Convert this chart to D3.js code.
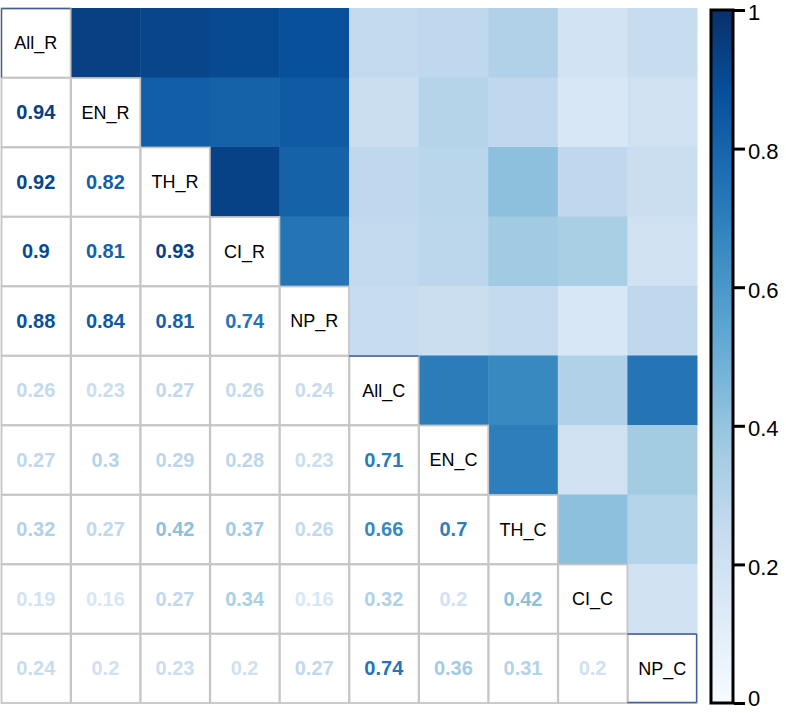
<!DOCTYPE html>
<html><head><meta charset="utf-8">
<script src="https://cdn.jsdelivr.net/npm/d3@7"></script>
<style>body{margin:0;background:#fff}svg{display:block}</style>
</head><body>
<script>
const labels = ["All_R","EN_R","TH_R","CI_R","NP_R","All_C","EN_C","TH_C","CI_C","NP_C"];
// lower triangle rows (row i has i values: columns 0..i-1)
const lowerRows = [
  [],
  [0.94],
  [0.92,0.82],
  [0.9,0.81,0.93],
  [0.88,0.84,0.81,0.74],
  [0.26,0.23,0.27,0.26,0.24],
  [0.27,0.3,0.29,0.28,0.23,0.71],
  [0.32,0.27,0.42,0.37,0.26,0.66,0.7],
  [0.19,0.16,0.27,0.34,0.16,0.32,0.2,0.42],
  [0.24,0.2,0.23,0.2,0.27,0.74,0.36,0.31,0.2]
];
const colorTicks = [0,0.2,0.4,0.6,0.8,1];
const bluesPalette = ["#f7fbff","#deebf7","#c6dbef","#9ecae1","#6baed6","#4292c6","#2171b5","#08519c","#08306b"];

const W = 786, H = 713;
const svg = d3.select("body").append("svg").attr("width", W).attr("height", H);

const n = labels.length;
const x = d3.scaleBand().domain(d3.range(n)).range([1, 697]).padding(0);
const y = d3.scaleBand().domain(d3.range(n)).range([8, 703]).padding(0);
const color = d3.scaleLinear()
  .domain(bluesPalette.map((d,i)=>i/(bluesPalette.length-1)))
  .range(bluesPalette).interpolate(d3.interpolateRgb).clamp(true);

const cells = [];
for (let i=0;i<n;i++) for (let j=0;j<n;j++) {
  if (i===j) cells.push({i,j,type:"diag"});
  else if (j<i) cells.push({i,j,type:"lower",v:lowerRows[i][j]});
  else cells.push({i,j,type:"upper",v:lowerRows[j][i]});
}

// upper colored squares
svg.append("g").selectAll("rect").data(cells.filter(c=>c.type==="upper")).join("rect")
  .attr("x", d=>x(d.j)).attr("y", d=>y(d.i))
  .attr("width", x.bandwidth()+0.5).attr("height", y.bandwidth()+0.5)
  .attr("fill", d=>color(d.v));

// lower + diagonal white cells with gray borders
svg.append("g").selectAll("rect").data(cells.filter(c=>c.type!=="upper")).join("rect")
  .attr("x", d=>x(d.j)+0.5).attr("y", d=>y(d.i)+0.5)
  .attr("width", x.bandwidth()-0.5).attr("height", y.bandwidth()-0.5)
  .attr("fill", "#fff").attr("stroke", "#c6c6c6").attr("stroke-width", 1.8);

// navy edge traces along some diagonal cells
const bw = x.bandwidth(), bh = y.bandwidth();
const navy = "#3f5f96";
const edges = [
  [x(0)+0.5, y(0)+bh, x(0)+0.5, y(0)+0.5], [x(0)+0.5, y(0)+0.5, x(0)+bw, y(0)+0.5],
  [x(5), y(5)+0.5, x(5)+bw, y(5)+0.5],
  [x(9), y(9)+0.5, x(9)+bw-0.5, y(9)+0.5],
  [x(9)+bw-0.5, y(9)+0.5, x(9)+bw-0.5, y(9)+bh-0.5],
  [x(9), y(9)+bh-0.5, x(9)+bw-0.5, y(9)+bh-0.5]
];
svg.append("g").selectAll("line").data(edges).join("line")
  .attr("x1",d=>d[0]).attr("y1",d=>d[1]).attr("x2",d=>d[2]).attr("y2",d=>d[3])
  .attr("stroke",navy).attr("stroke-width",1.3);

// numbers
svg.append("g").selectAll("text").data(cells.filter(c=>c.type==="lower")).join("text")
  .attr("x", d=>x(d.j)+bw/2).attr("y", d=>y(d.i)+bh/2)
  .attr("text-anchor","middle").attr("dy","0.36em")
  .attr("font-family","Liberation Sans, Arial, sans-serif").attr("font-weight","bold")
  .attr("font-size",20).attr("fill", d=>color(d.v))
  .text(d=>String(d.v));

// diagonal labels
svg.append("g").selectAll("text").data(cells.filter(c=>c.type==="diag")).join("text")
  .attr("x", d=>x(d.j)+bw/2).attr("y", d=>y(d.i)+bh/2)
  .attr("text-anchor","middle").attr("dy","0.36em")
  .attr("font-family","Liberation Sans, Arial, sans-serif")
  .attr("font-size",18).attr("fill","#000")
  .text(d=>labels[d.i]);

// colorbar
const cb = {x0:711, x1:733, y0:10, y1:703};
const cy = d3.scaleLinear().domain([0,1]).range([cb.y1, cb.y0]);
const defs = svg.append("defs");
const grad = defs.append("linearGradient").attr("id","cbgrad")
  .attr("x1","0").attr("y1","1").attr("x2","0").attr("y2","0");
bluesPalette.forEach((c,i)=>grad.append("stop").attr("offset", i/(bluesPalette.length-1)).attr("stop-color", c));
svg.append("rect").attr("x",cb.x0).attr("y",cb.y0).attr("width",cb.x1-cb.x0).attr("height",cb.y1-cb.y0)
  .attr("fill","url(#cbgrad)").attr("stroke","#000").attr("stroke-width",3);

const axis = d3.axisRight(cy).tickValues(colorTicks).tickSize(11).tickPadding(3)
  .tickFormat(d=>String(d));
const ag = svg.append("g").attr("transform",`translate(${cb.x1+1},0)`).call(axis);
ag.select(".domain").remove();
ag.selectAll(".tick line").attr("stroke","#000").attr("stroke-width",3).attr("x1",0);
ag.selectAll(".tick text").attr("font-family","Liberation Sans, Arial, sans-serif")
  .attr("font-size",22).attr("fill","#000")
  .attr("dy", d => d===0 ? "0.1em" : (d===1 ? "0.42em" : "0.45em"));
</script>
</body></html>
